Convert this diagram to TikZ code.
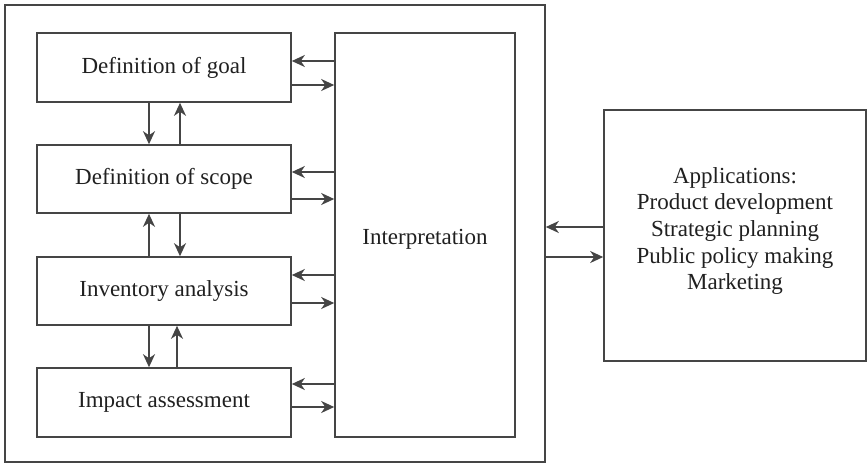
\documentclass[tikz,border=0pt]{standalone}
\usepackage{fontspec}
\setmainfont{Liberation Serif}
\newfontfamily\labelfont{Liberation Serif}
\usetikzlibrary{arrows.meta}
\definecolor{linegray}{HTML}{454545}
\definecolor{textgray}{HTML}{202020}
\tikzset{
  box/.style={draw=linegray, line width=1.6pt, rectangle, inner sep=0pt,
    text=textgray, font=\labelfont\fontsize{23}{26.7}\selectfont, align=center},
  lbl/.style={text=textgray, font=\labelfont\fontsize{23}{26.7}\selectfont, align=center},
  arr/.style={draw=linegray, line width=1.6pt,
    -{Stealth[length=13pt,width=12pt,inset=4pt]}}
}
\begin{document}
\begin{tikzpicture}[x=1pt,y=-1pt]
\useasboundingbox (0,0) rectangle (867,464);
% outer frame of the assessment stages
\node[box, minimum width=540pt, minimum height=457pt] (frame) at (275,233.5) {};
% stage boxes
\node[box, minimum width=254pt, minimum height=69pt] (goal) at (164,67.5) {Definition of goal};
\node[box, minimum width=254pt, minimum height=68pt] (scope) at (164,179) {Definition of scope};
\node[box, minimum width=254pt, minimum height=68pt] (inv) at (164,291) {Inventory analysis};
\node[box, minimum width=254pt, minimum height=69pt] (impact) at (164,402.5) {Impact assessment};
\node[box, minimum width=180pt, minimum height=404pt] (interp) at (425,235) {};
\node[lbl] (interptext) at (425,239.5) {Interpretation};
\node[box, minimum width=262pt, minimum height=251pt] (apps) at (735,235.5) {};
\node[lbl] (appstext) at (735,231)
  {Applications:\\Product development\\Strategic planning\\Public policy making\\Marketing};
% arrow levels
\coordinate (g1) at (0,61);  \coordinate (g2) at (0,85);
\coordinate (s1) at (0,172); \coordinate (s2) at (0,199);
\coordinate (i1) at (0,275); \coordinate (i2) at (0,303);
\coordinate (m1) at (0,384); \coordinate (m2) at (0,407);
\coordinate (a1) at (0,227); \coordinate (a2) at (0,257);
\coordinate (xl) at (149,0); \coordinate (xr) at (180,0); \coordinate (xr2) at (177,0);
% interpretation <-> stages
\draw[arr] (interp.west |- g1) -- (goal.east |- g1);
\draw[arr] (goal.east |- g2) -- (interp.west |- g2);
\draw[arr] (interp.west |- s1) -- (scope.east |- s1);
\draw[arr] (scope.east |- s2) -- (interp.west |- s2);
\draw[arr] (interp.west |- i1) -- (inv.east |- i1);
\draw[arr] (inv.east |- i2) -- (interp.west |- i2);
\draw[arr] (interp.west |- m1) -- (impact.east |- m1);
\draw[arr] (impact.east |- m2) -- (interp.west |- m2);
% stage <-> stage
\draw[arr] (goal.south -| xl) -- (scope.north -| xl);
\draw[arr] (scope.north -| xr) -- (goal.south -| xr);
\draw[arr] (inv.north -| xl) -- (scope.south -| xl);
\draw[arr] (scope.south -| xr) -- (inv.north -| xr);
\draw[arr] (inv.south -| xl) -- (impact.north -| xl);
\draw[arr] (impact.north -| xr2) -- (inv.south -| xr2);
% frame <-> applications
\draw[arr] (apps.west |- a1) -- (frame.east |- a1);
\draw[arr] (frame.east |- a2) -- (apps.west |- a2);
\end{tikzpicture}
\end{document}
